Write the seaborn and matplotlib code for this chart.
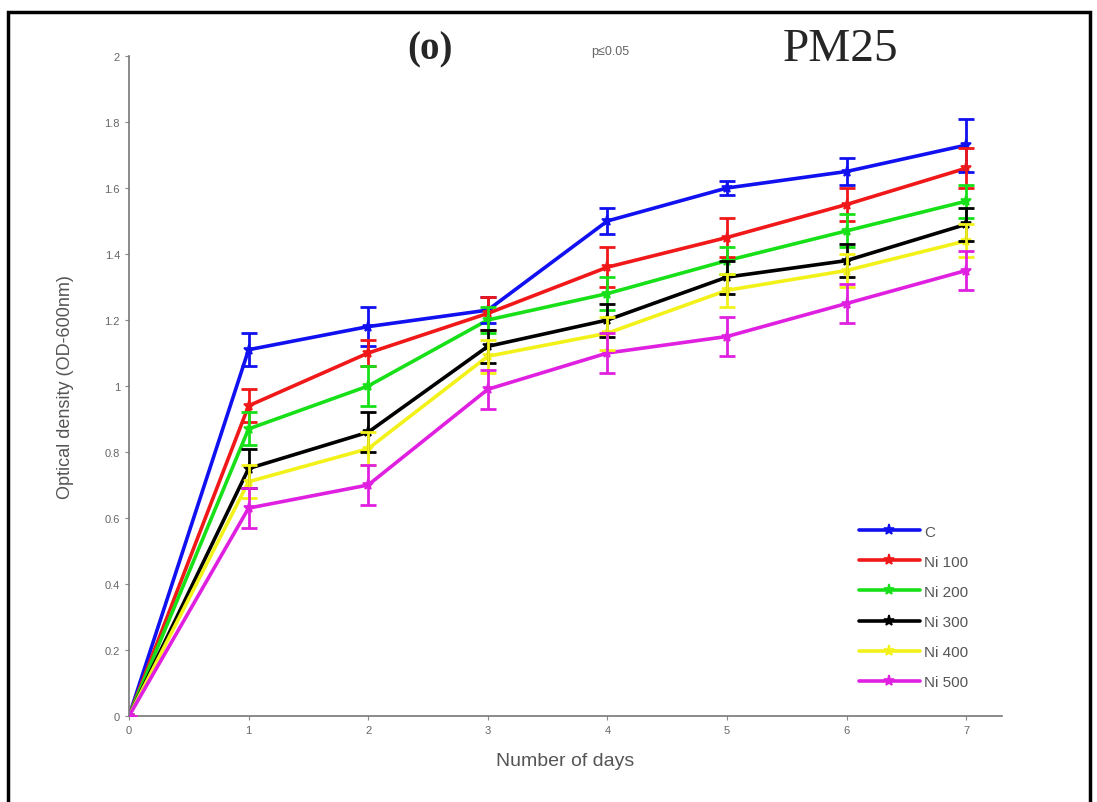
import numpy as np
import pandas as pd
import matplotlib
matplotlib.use("Agg")
import matplotlib.pyplot as plt
import seaborn as sns
from matplotlib.patches import Rectangle

days = [0, 1, 2, 3, 4, 5, 6, 7]
series_names = ["C", "Ni 100", "Ni 200", "Ni 300", "Ni 400", "Ni 500"]
od_c = [0.0, 1.11, 1.18, 1.23, 1.50, 1.60, 1.65, 1.73]
od_ni100 = [0.0, 0.94, 1.10, 1.22, 1.36, 1.45, 1.55, 1.66]
od_ni200 = [0.0, 0.87, 1.00, 1.20, 1.28, 1.38, 1.47, 1.56]
od_ni300 = [0.0, 0.75, 0.86, 1.12, 1.20, 1.33, 1.38, 1.49]
od_ni400 = [0.0, 0.71, 0.81, 1.09, 1.16, 1.29, 1.35, 1.44]
od_ni500 = [0.0, 0.63, 0.70, 0.99, 1.10, 1.15, 1.25, 1.35]
err_c = [0.0, 0.05, 0.06, 0.04, 0.04, 0.02, 0.04, 0.08]
err_ni100 = [0.0, 0.05, 0.04, 0.05, 0.06, 0.06, 0.05, 0.06]
err_ni200 = [0.0, 0.05, 0.06, 0.04, 0.05, 0.04, 0.05, 0.05]
err_ni300 = [0.0, 0.06, 0.06, 0.05, 0.05, 0.05, 0.05, 0.05]
err_ni400 = [0.0, 0.05, 0.05, 0.05, 0.05, 0.05, 0.05, 0.05]
err_ni500 = [0.0, 0.06, 0.06, 0.06, 0.06, 0.06, 0.06, 0.06]
y_ticks = [0, 0.2, 0.4, 0.6, 0.8, 1, 1.2, 1.4, 1.6, 1.8, 2]
y_tick_labels = ["0", "0.2", "0.4", "0.6", "0.8", "1", "1.2", "1.4", "1.6", "1.8", "2"]
colors = ["#1010f0", "#f01818", "#18e018", "#000000", "#f2f21a", "#e020e0"]

values = [od_c, od_ni100, od_ni200, od_ni300, od_ni400, od_ni500]
errors = [err_c, err_ni100, err_ni200, err_ni300, err_ni400, err_ni500]

rows = []
for name, vals, errs in zip(series_names, values, errors):
    for d, v, e in zip(days, vals, errs):
        rows.append({"day": d, "od": v, "err": e, "series": name})
df = pd.DataFrame(rows)

sns.set_style("ticks")
plt.rcParams["font.family"] = ["Liberation Sans", "DejaVu Sans"]

fig = plt.figure(figsize=(10.97, 8.03), dpi=100)
ax = fig.add_axes([129 / 1097, 86 / 803, (1002 - 129) / 1097, (717 - 57) / 803])

palette = dict(zip(series_names, colors))
sns.lineplot(data=df, x="day", y="od", hue="series", palette=palette,
             marker="*", markersize=8, markeredgewidth=1.2, linewidth=2.6,
             ax=ax, legend=True, hue_order=series_names)
for line in ax.lines:
    line.set_markeredgecolor(line.get_color())
    line.set_markerfacecolor(line.get_color())
for name in series_names:
    sub = df[df["series"] == name]
    ax.errorbar(sub["day"], sub["od"], yerr=sub["err"], fmt="none",
                ecolor=palette[name], elinewidth=2, capsize=6, capthick=2, zorder=3)

ax.set_xlim(0, 7.3)
ax.set_ylim(0, 2)
ax.set_xticks(days)
ax.set_xticklabels([str(d) for d in days], fontsize=8, color="#666666")
ax.set_yticks(y_ticks)
ax.set_yticklabels(y_tick_labels, fontsize=8, color="#666666")
ax.tick_params(direction="out", length=3, color="#888888")
sns.despine(ax=ax)
for s in ["left", "bottom"]:
    ax.spines[s].set_color("#777777")
    ax.spines[s].set_linewidth(1.2)

ax.set_xlabel("Number of days", fontsize=14, color="#555555", labelpad=12)
ax.set_ylabel("Optical density (OD-600nm)", fontsize=13, color="#555555", labelpad=22)

handles, labels = ax.get_legend_handles_labels()
for h in handles:
    h.set_markeredgecolor(h.get_color())
    h.set_markerfacecolor(h.get_color())
ax.legend(handles, labels, loc="upper left", frameon=False,
          bbox_to_anchor=(845 / 1097, 1 - 512 / 803), bbox_transform=fig.transFigure,
          fontsize=11, handlelength=4.0, labelspacing=1.05, handletextpad=0.3,
          labelcolor="#555555")

fig.text(430 / 1097, 1 - 50 / 803, "(o)", fontsize=28, fontweight="bold",
         family=["Liberation Serif", "DejaVu Serif"], ha="center", va="center")
fig.text(610 / 1097, 1 - 52 / 803, "p\u22640.05", fontsize=9, color="#666666",
         ha="center", va="center")
fig.text(840 / 1097, 1 - 50 / 803, "PM25", fontsize=34,
         family=["Liberation Serif", "DejaVu Serif"], ha="center", va="center")

fig.patches.append(Rectangle((8 / 1097, -0.01), (1090 - 8) / 1097, 1 - 13 / 803 + 0.01,
                             transform=fig.transFigure, fill=False,
                             edgecolor="black", linewidth=2.5))

fig.savefig("out.png", dpi=100)
